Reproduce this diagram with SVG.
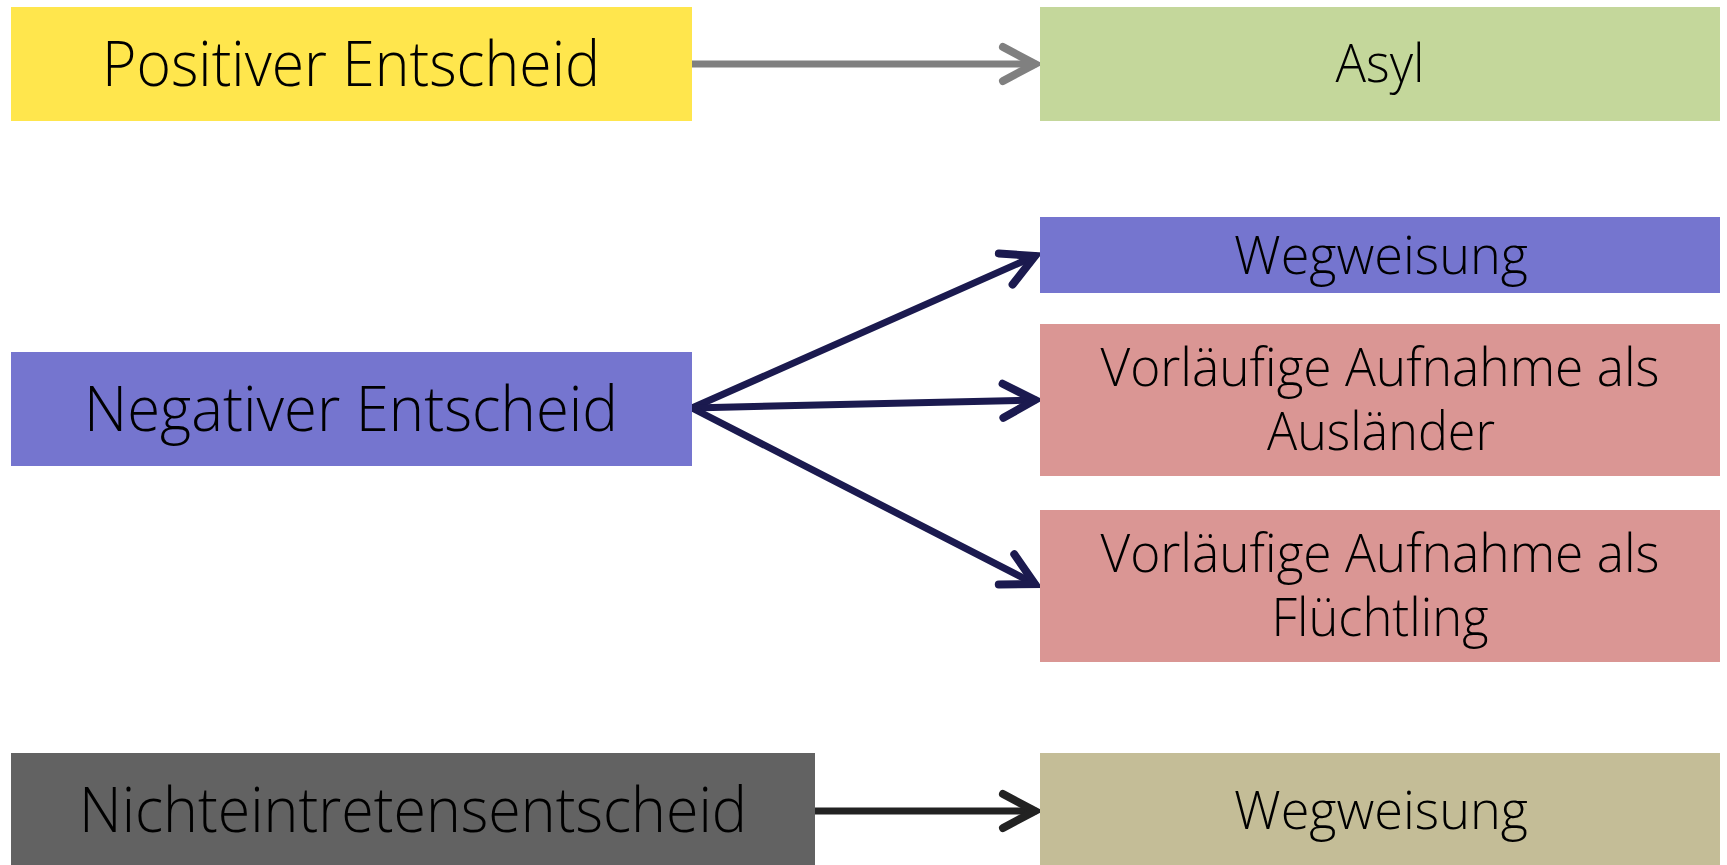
<svg xmlns="http://www.w3.org/2000/svg" width="1727" height="865" viewBox="0 0 1727 865">
<style>
text{font-family:"Open Sans","Noto Sans","Liberation Sans",sans-serif;font-weight:300;fill:#000;text-anchor:middle}
.big{font-size:62px}
.sm{font-size:53px}
.ln{fill:none;stroke-width:7;stroke-linecap:round}
</style>
<defs>
<marker id="mGray" markerUnits="userSpaceOnUse" markerWidth="50" markerHeight="50" viewBox="-40 -25 50 50" refX="0" refY="0" orient="auto"><path d="M-32,-17 L0,0 L-32,17" fill="none" stroke="#808080" stroke-width="8" stroke-linecap="round" stroke-linejoin="miter"/></marker>
<marker id="mNavy" markerUnits="userSpaceOnUse" markerWidth="50" markerHeight="50" viewBox="-40 -25 50 50" refX="0" refY="0" orient="auto"><path d="M-32,-17 L0,0 L-32,17" fill="none" stroke="#1B1A4F" stroke-width="8" stroke-linecap="round" stroke-linejoin="miter"/></marker>
<marker id="mDark" markerUnits="userSpaceOnUse" markerWidth="50" markerHeight="50" viewBox="-40 -25 50 50" refX="0" refY="0" orient="auto"><path d="M-32,-17 L0,0 L-32,17" fill="none" stroke="#222222" stroke-width="8" stroke-linecap="round" stroke-linejoin="miter"/></marker>
</defs>
<rect width="1727" height="865" fill="#fff"/>
<g id="connectors">
<line class="ln" x1="692" y1="64" x2="1035" y2="64" stroke="#808080" stroke-linecap="butt" marker-end="url(#mGray)"/>
<line class="ln" x1="692" y1="408" x2="1035" y2="256" stroke="#1B1A4F" marker-end="url(#mNavy)"/>
<line class="ln" x1="692" y1="408" x2="1035" y2="400" stroke="#1B1A4F" marker-end="url(#mNavy)"/>
<line class="ln" x1="692" y1="408" x2="1035" y2="584" stroke="#1B1A4F" marker-end="url(#mNavy)"/>
<line class="ln" x1="815" y1="811" x2="1035" y2="811" stroke="#222222" stroke-linecap="butt" marker-end="url(#mDark)"/>
</g>
<g id="positiver">
<rect x="11" y="7" width="681" height="114" fill="#FFE64D"/>
<text class="big" x="351" y="86" textLength="498" lengthAdjust="spacingAndGlyphs">Positiver Entscheid</text>
</g>
<g id="asyl">
<rect x="1040" y="7" width="680" height="114" fill="#C4D79B"/>
<text class="sm" x="1380" y="82" textLength="89" lengthAdjust="spacingAndGlyphs">Asyl</text>
</g>
<g id="negativer">
<rect x="11" y="352" width="681" height="114" fill="#7575CF"/>
<text class="big" x="351" y="431" textLength="534" lengthAdjust="spacingAndGlyphs">Negativer Entscheid</text>
</g>
<g id="wegweisung1">
<rect x="1040" y="217" width="680" height="76" fill="#7575CF"/>
<text class="sm" x="1381" y="274" textLength="294" lengthAdjust="spacingAndGlyphs">Wegweisung</text>
</g>
<g id="auslaender">
<rect x="1040" y="324" width="680" height="152" fill="#DA9694"/>
<text class="sm" x="1380" y="386" textLength="559" lengthAdjust="spacingAndGlyphs">Vorläufige Aufnahme als</text>
<text class="sm" x="1381" y="450" textLength="228" lengthAdjust="spacingAndGlyphs">Ausländer</text>
</g>
<g id="fluechtling">
<rect x="1040" y="510" width="680" height="152" fill="#DA9694"/>
<text class="sm" x="1380" y="572" textLength="559" lengthAdjust="spacingAndGlyphs">Vorläufige Aufnahme als</text>
<text class="sm" x="1380" y="636" textLength="217" lengthAdjust="spacingAndGlyphs">Flüchtling</text>
</g>
<g id="nichteintreten">
<rect x="11" y="753" width="804" height="112" fill="#626262"/>
<text class="big" x="413" y="832" textLength="668" lengthAdjust="spacingAndGlyphs">Nichteintretensentscheid</text>
</g>
<g id="wegweisung2">
<rect x="1040" y="753" width="680" height="112" fill="#C4BD97"/>
<text class="sm" x="1381" y="829" textLength="294" lengthAdjust="spacingAndGlyphs">Wegweisung</text>
</g>
</svg>
